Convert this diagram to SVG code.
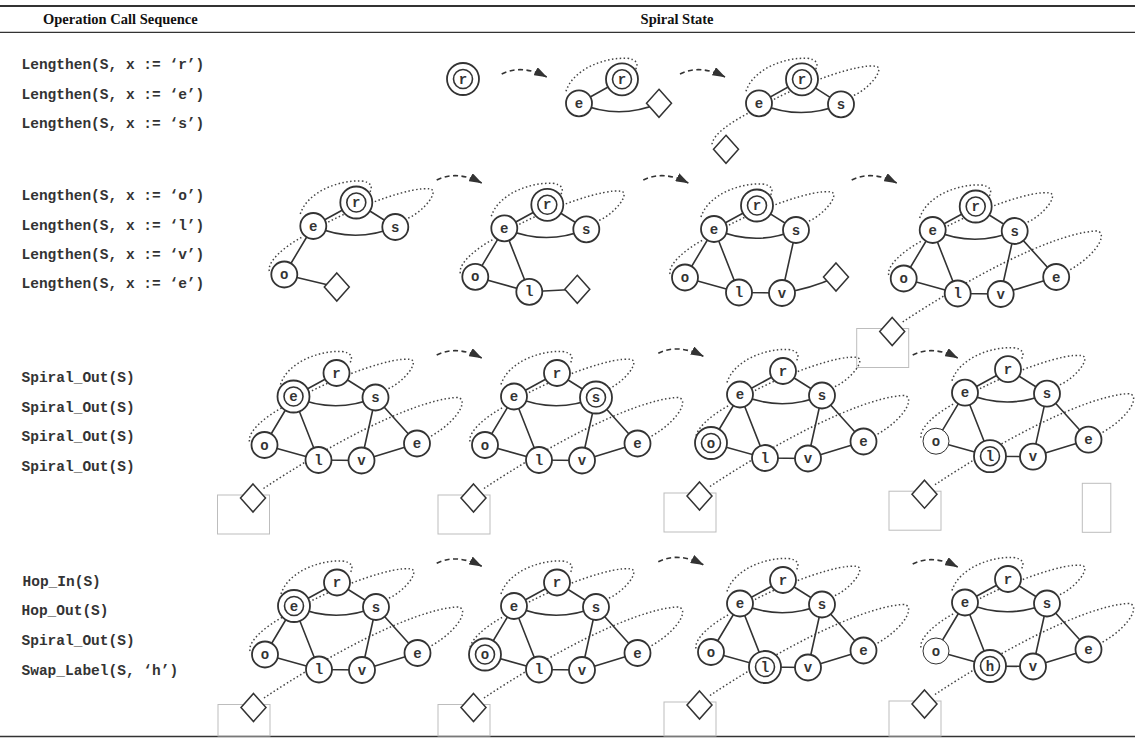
<svg xmlns="http://www.w3.org/2000/svg" xmlns:xlink="http://www.w3.org/1999/xlink" width="1135" height="738" viewBox="0 0 1135 738">
<style>
  .rule{stroke:#333;fill:none}
  .hdr{font-family:"Liberation Serif","Times New Roman",serif;font-weight:bold;font-size:14.5px;fill:#111}
  .op{font-family:"Liberation Mono","Courier New",monospace;font-weight:bold;font-size:14.5px;fill:#333}
  .edge{stroke:#333;stroke-width:1.6;fill:none}
  .spiral{stroke:#444;stroke-width:1.5;stroke-dasharray:1.5 2.4;fill:none}
  .step{stroke:#333;stroke-width:1.6;stroke-dasharray:5 3.5;fill:none}
  .frame{fill:none;stroke:#bdbdbd;stroke-width:1}
  .node circle{fill:#fff;stroke:#333;stroke-width:1.8}
  .node circle.in{stroke-width:1.6}
  .node.thin circle{stroke-width:1}
  .node text{font-family:"Liberation Mono","Courier New",monospace;font-weight:bold;font-size:14px;fill:#333;text-anchor:middle}
  .slot{fill:#fff;stroke:#333;stroke-width:1.5}
</style>
<defs>
  <marker id="step-head" viewBox="0 0 13 9" refX="12.5" refY="4.5" markerWidth="13" markerHeight="9" markerUnits="userSpaceOnUse" orient="auto">
    <path d="M0,0 L13,4.5 L0,9 z" fill="#333"/>
  </marker>
  <!-- spiral (dotted) links, local to the e node of each state -->
  <path id="sp-er" class="spiral" d="M-13,-12 C-6,-34 25,-46 48,-45 C58,-44 60,-39 56,-33"/>
  <path id="sp-es" class="spiral" d="M15,-4 C50,-22 100,-40 117,-37 C126,-35.5 112,-15 93,-7"/>
  <path id="sp-oe" class="spiral" d="M-44,45 C-46,35 -28,20 -11,11"/>
  <path id="sp-tail" class="spiral" d="M-30,92 C30,52 115,5 162,1 C176,0 168,22 137,40"/>
  <g id="spiral-full"><use xlink:href="#sp-er"/><use xlink:href="#sp-es"/><use xlink:href="#sp-oe"/><use xlink:href="#sp-tail"/></g>
  <path id="links-full" class="edge" d="M0,0 L43,-23.5 M43,-23.5 L82,1 M0,0 Q41,18 82,1 M0,0 L-29,48.5 M0,0 L25,63.5 M-29,48.5 L25,63.5 M25,63.5 L68,64 M82,1 L68,64 M82,1 L123.5,47 M68,64 L123.5,47"/>
</defs>

<!-- table rules and headings -->
<g id="table">
  <line class="rule" x1="0" y1="6" x2="1135" y2="6" stroke-width="2"/>
  <line class="rule" x1="0" y1="32.3" x2="1135" y2="32.3" stroke-width="1.2"/>
  <line class="rule" x1="0" y1="736.5" x2="1135" y2="736.5" stroke-width="1.5"/>
  <text class="hdr" x="43" y="24">Operation Call Sequence</text>
  <text class="hdr" x="640.6" y="24">Spiral State</text>
</g>

<!-- operation calls -->
<g id="operations">
  <text class="op" x="21.5" y="69">Lengthen(S, x := ‘r’)</text>
  <text class="op" x="21.5" y="98.5">Lengthen(S, x := ‘e’)</text>
  <text class="op" x="21.5" y="128">Lengthen(S, x := ‘s’)</text>
  <text class="op" x="21.5" y="200">Lengthen(S, x := ‘o’)</text>
  <text class="op" x="21.5" y="229.5">Lengthen(S, x := ‘l’)</text>
  <text class="op" x="21.5" y="258.5">Lengthen(S, x := ‘v’)</text>
  <text class="op" x="21.5" y="288">Lengthen(S, x := ‘e’)</text>
  <text class="op" x="21.5" y="382">Spiral_Out(S)</text>
  <text class="op" x="21.5" y="411.5">Spiral_Out(S)</text>
  <text class="op" x="21.5" y="441">Spiral_Out(S)</text>
  <text class="op" x="21.5" y="470.5">Spiral_Out(S)</text>
  <text class="op" x="22.5" y="586">Hop_In(S)</text>
  <text class="op" x="21.5" y="614.5">Hop_Out(S)</text>
  <text class="op" x="21.5" y="644.5">Spiral_Out(S)</text>
  <text class="op" x="21.5" y="674.5">Swap_Label(S, ‘h’)</text>
</g>

<!-- slot frames -->
<g id="frames">
  <rect class="frame" x="856.7" y="328.5" width="52" height="39"/>
  <rect class="frame" x="217.5" y="495" width="52" height="39"/>
  <rect class="frame" x="438" y="495" width="52" height="39"/>
  <rect class="frame" x="664" y="493" width="52" height="39"/>
  <rect class="frame" x="889" y="491.2" width="52" height="39"/>
  <rect class="frame" x="1082.3" y="483.3" width="28.5" height="49"/>
  <rect class="frame" x="218" y="704.5" width="52" height="31.5"/>
  <rect class="frame" x="438" y="704.5" width="52" height="31.5"/>
  <rect class="frame" x="664" y="702" width="52" height="34"/>
  <rect class="frame" x="889" y="701" width="52" height="35"/>
</g>

<g id="connectors">
  <!-- state-to-state steps -->
  <g id="steps">
    <path class="step" marker-end="url(#step-head)" d="M501.7,74 q20,-10 45,3"/>
    <path class="step" marker-end="url(#step-head)" d="M680,74 q20,-10 45,3"/>
    <path class="step" marker-end="url(#step-head)" d="M436.7,180 q20,-10 45,3"/>
    <path class="step" marker-end="url(#step-head)" d="M643.3,180 q20,-10 45,3"/>
    <path class="step" marker-end="url(#step-head)" d="M851.7,180 q20,-10 45,3"/>
    <path class="step" marker-end="url(#step-head)" d="M436.7,355 q20,-10 45,3"/>
    <path class="step" marker-end="url(#step-head)" d="M658.3,353.3 q20,-10 45,3"/>
    <path class="step" marker-end="url(#step-head)" d="M912.7,355 q20,-10 45,3"/>
    <path class="step" marker-end="url(#step-head)" d="M436.7,563.3 q20,-10 45,3"/>
    <path class="step" marker-end="url(#step-head)" d="M658.3,561.7 q20,-10 45,3"/>
    <path class="step" marker-end="url(#step-head)" d="M912.7,564 q20,-10 45,3"/>
  </g>
  <!-- row 1 -->
  <g transform="translate(579,103.3)">
    <use xlink:href="#sp-er"/>
    <path class="edge" d="M0,0 L43,-24 M0,0 Q40,17 80,0"/>
  </g>
  <g transform="translate(759,103.3)">
    <use xlink:href="#sp-er"/><use xlink:href="#sp-es"/>
    <path class="spiral" d="M-47,41 C-46,31 -28,19 -11,10"/>
    <path class="edge" d="M0,0 L43,-24 M43,-24 L82,1 M0,0 Q41,18 82,1"/>
  </g>
  <!-- row 2 -->
  <g transform="translate(313.3,226)">
    <use xlink:href="#sp-er"/><use xlink:href="#sp-es"/><use xlink:href="#sp-oe"/>
    <path class="edge" d="M0,0 L43,-23.5 M43,-23.5 L82,1 M0,0 Q41,18 82,1 M0,0 L-29,48.5 M-29,48.5 L23.5,61"/>
  </g>
  <g transform="translate(504.3,228.3)">
    <use xlink:href="#sp-er"/><use xlink:href="#sp-es"/><use xlink:href="#sp-oe"/>
    <path class="edge" d="M0,0 L43,-23.5 M43,-23.5 L82,1 M0,0 Q41,18 82,1 M0,0 L-29,48.5 M0,0 L25,63.5 M-29,48.5 L25,63.5 M25,63.5 L73,61"/>
  </g>
  <g transform="translate(714,229)">
    <use xlink:href="#sp-er"/><use xlink:href="#sp-es"/><use xlink:href="#sp-oe"/>
    <path class="edge" d="M0,0 L43,-23.5 M43,-23.5 L82,1 M0,0 Q41,18 82,1 M0,0 L-29,48.5 M0,0 L25,63.5 M-29,48.5 L25,63.5 M25,63.5 L68,64 M82,1 L68,64 M68,64 Q96,60 122,48"/>
  </g>
  <g transform="translate(932.7,230)"><use xlink:href="#spiral-full"/><use xlink:href="#links-full"/></g>
  <!-- row 3 -->
  <g transform="translate(293.5,396.5)"><use xlink:href="#spiral-full"/><use xlink:href="#links-full"/></g>
  <g transform="translate(514,396.5)"><use xlink:href="#spiral-full"/><use xlink:href="#links-full"/></g>
  <g transform="translate(740,394.5)"><use xlink:href="#spiral-full"/><use xlink:href="#links-full"/></g>
  <g transform="translate(965,392.7)"><use xlink:href="#spiral-full"/><use xlink:href="#links-full"/></g>
  <!-- row 4 -->
  <g transform="translate(294,606)"><use xlink:href="#spiral-full"/><use xlink:href="#links-full"/></g>
  <g transform="translate(514,606)"><use xlink:href="#spiral-full"/><use xlink:href="#links-full"/></g>
  <g transform="translate(740,603.5)"><use xlink:href="#spiral-full"/><use xlink:href="#links-full"/></g>
  <g transform="translate(965,602.5)"><use xlink:href="#spiral-full"/><use xlink:href="#links-full"/></g>
</g>

<g id="nodes">
  <!-- row 1 -->
  <g id="st1a" transform="translate(420,103)">
    <g id="st1a-r" class="node"><circle cx="43" cy="-24" r="16"/><circle class="in" cx="43" cy="-24" r="9.5"/><text x="43" y="-19.5">r</text></g>
  </g>
  <g id="st1b" transform="translate(579,103.3)">
    <g id="st1b-r" class="node"><circle cx="43" cy="-24" r="16"/><circle class="in" cx="43" cy="-24" r="9.5"/><text x="43" y="-19.5">r</text></g>
    <g id="st1b-e" class="node"><circle cx="0" cy="0" r="13"/><text x="0" y="4.5">e</text></g>
    <path id="st1b-slot" class="slot" d="M80,-14 l12.5,14 l-12.5,14 l-12.5,-14 z"/>
  </g>
  <g id="st1c" transform="translate(759,103.3)">
    <g id="st1c-r" class="node"><circle cx="43" cy="-24" r="16"/><circle class="in" cx="43" cy="-24" r="9.5"/><text x="43" y="-19.5">r</text></g>
    <g id="st1c-e" class="node"><circle cx="0" cy="0" r="13"/><text x="0" y="4.5">e</text></g>
    <g id="st1c-s" class="node"><circle cx="82" cy="1" r="13"/><text x="82" y="5.5">s</text></g>
    <path id="st1c-slot" class="slot" d="M-33,32 l12.5,14 l-12.5,14 l-12.5,-14 z"/>
  </g>
  <!-- row 2 -->
  <g id="st2a" transform="translate(313.3,226)">
    <g id="st2a-r" class="node"><circle cx="43" cy="-23.5" r="16"/><circle class="in" cx="43" cy="-23.5" r="9.5"/><text x="43" y="-19">r</text></g>
    <g id="st2a-e" class="node"><circle cx="0" cy="0" r="13"/><text x="0" y="4.5">e</text></g>
    <g id="st2a-s" class="node"><circle cx="82" cy="1" r="13"/><text x="82" y="5.5">s</text></g>
    <g id="st2a-o" class="node"><circle cx="-29" cy="48.5" r="13"/><text x="-29" y="53">o</text></g>
    <path id="st2a-slot" class="slot" d="M23.5,47 l12.5,14 l-12.5,14 l-12.5,-14 z"/>
  </g>
  <g id="st2b" transform="translate(504.3,228.3)">
    <g id="st2b-r" class="node"><circle cx="43" cy="-23.5" r="16"/><circle class="in" cx="43" cy="-23.5" r="9.5"/><text x="43" y="-19">r</text></g>
    <g id="st2b-e" class="node"><circle cx="0" cy="0" r="13"/><text x="0" y="4.5">e</text></g>
    <g id="st2b-s" class="node"><circle cx="82" cy="1" r="13"/><text x="82" y="5.5">s</text></g>
    <g id="st2b-o" class="node"><circle cx="-29" cy="48.5" r="13"/><text x="-29" y="53">o</text></g>
    <g id="st2b-l" class="node"><circle cx="25" cy="63.5" r="13"/><text x="25" y="68">l</text></g>
    <path id="st2b-slot" class="slot" d="M73,47 l12.5,14 l-12.5,14 l-12.5,-14 z"/>
  </g>
  <g id="st2c" transform="translate(714,229)">
    <g id="st2c-r" class="node"><circle cx="43" cy="-23.5" r="16"/><circle class="in" cx="43" cy="-23.5" r="9.5"/><text x="43" y="-19">r</text></g>
    <g id="st2c-e" class="node"><circle cx="0" cy="0" r="13"/><text x="0" y="4.5">e</text></g>
    <g id="st2c-s" class="node"><circle cx="82" cy="1" r="13"/><text x="82" y="5.5">s</text></g>
    <g id="st2c-o" class="node"><circle cx="-29" cy="48.5" r="13"/><text x="-29" y="53">o</text></g>
    <g id="st2c-l" class="node"><circle cx="25" cy="63.5" r="13"/><text x="25" y="68">l</text></g>
    <g id="st2c-v" class="node"><circle cx="68" cy="64" r="13"/><text x="68" y="68.5">v</text></g>
    <path id="st2c-slot" class="slot" d="M122,34 l12.5,14 l-12.5,14 l-12.5,-14 z"/>
  </g>
  <g id="st2d" transform="translate(932.7,230)">
    <g id="st2d-r" class="node"><circle cx="43" cy="-23.5" r="16"/><circle class="in" cx="43" cy="-23.5" r="9.5"/><text x="43" y="-19">r</text></g>
    <g id="st2d-e" class="node"><circle cx="0" cy="0" r="13"/><text x="0" y="4.5">e</text></g>
    <g id="st2d-s" class="node"><circle cx="82" cy="1" r="13"/><text x="82" y="5.5">s</text></g>
    <g id="st2d-o" class="node"><circle cx="-29" cy="48.5" r="13"/><text x="-29" y="53">o</text></g>
    <g id="st2d-l" class="node"><circle cx="25" cy="63.5" r="13"/><text x="25" y="68">l</text></g>
    <g id="st2d-v" class="node"><circle cx="68" cy="64" r="13"/><text x="68" y="68.5">v</text></g>
    <g id="st2d-e2" class="node"><circle cx="123.5" cy="47" r="13"/><text x="123.5" y="51.5">e</text></g>
    <path id="st2d-slot" class="slot" d="M-40.5,87.5 l12.5,14 l-12.5,14 l-12.5,-14 z"/>
  </g>
  <!-- row 3 -->
  <g id="st3a" transform="translate(293.5,396.5)">
    <g id="st3a-r" class="node"><circle cx="43" cy="-23.5" r="13"/><text x="43" y="-19">r</text></g>
    <g id="st3a-e" class="node"><circle cx="0" cy="0" r="16"/><circle class="in" cx="0" cy="0" r="9.5"/><text x="0" y="4.5">e</text></g>
    <g id="st3a-s" class="node"><circle cx="82" cy="1" r="13"/><text x="82" y="5.5">s</text></g>
    <g id="st3a-o" class="node"><circle cx="-29" cy="48.5" r="13"/><text x="-29" y="53">o</text></g>
    <g id="st3a-l" class="node"><circle cx="25" cy="63.5" r="13"/><text x="25" y="68">l</text></g>
    <g id="st3a-v" class="node"><circle cx="68" cy="64" r="13"/><text x="68" y="68.5">v</text></g>
    <g id="st3a-e2" class="node"><circle cx="123.5" cy="47" r="13"/><text x="123.5" y="51.5">e</text></g>
    <path id="st3a-slot" class="slot" d="M-40.5,87.5 l12.5,14 l-12.5,14 l-12.5,-14 z"/>
  </g>
  <g id="st3b" transform="translate(514,396.5)">
    <g id="st3b-r" class="node"><circle cx="43" cy="-23.5" r="13"/><text x="43" y="-19">r</text></g>
    <g id="st3b-e" class="node"><circle cx="0" cy="0" r="13"/><text x="0" y="4.5">e</text></g>
    <g id="st3b-s" class="node"><circle cx="82" cy="1" r="16"/><circle class="in" cx="82" cy="1" r="9.5"/><text x="82" y="5.5">s</text></g>
    <g id="st3b-o" class="node"><circle cx="-29" cy="48.5" r="13"/><text x="-29" y="53">o</text></g>
    <g id="st3b-l" class="node"><circle cx="25" cy="63.5" r="13"/><text x="25" y="68">l</text></g>
    <g id="st3b-v" class="node"><circle cx="68" cy="64" r="13"/><text x="68" y="68.5">v</text></g>
    <g id="st3b-e2" class="node"><circle cx="123.5" cy="47" r="13"/><text x="123.5" y="51.5">e</text></g>
    <path id="st3b-slot" class="slot" d="M-40.5,87.5 l12.5,14 l-12.5,14 l-12.5,-14 z"/>
  </g>
  <g id="st3c" transform="translate(740,394.5)">
    <g id="st3c-r" class="node"><circle cx="43" cy="-23.5" r="13"/><text x="43" y="-19">r</text></g>
    <g id="st3c-e" class="node"><circle cx="0" cy="0" r="13"/><text x="0" y="4.5">e</text></g>
    <g id="st3c-s" class="node"><circle cx="82" cy="1" r="13"/><text x="82" y="5.5">s</text></g>
    <g id="st3c-o" class="node"><circle cx="-29" cy="48.5" r="16"/><circle class="in" cx="-29" cy="48.5" r="9.5"/><text x="-29" y="53">o</text></g>
    <g id="st3c-l" class="node"><circle cx="25" cy="63.5" r="13"/><text x="25" y="68">l</text></g>
    <g id="st3c-v" class="node"><circle cx="68" cy="64" r="13"/><text x="68" y="68.5">v</text></g>
    <g id="st3c-e2" class="node"><circle cx="123.5" cy="47" r="13"/><text x="123.5" y="51.5">e</text></g>
    <path id="st3c-slot" class="slot" d="M-40.5,87.5 l12.5,14 l-12.5,14 l-12.5,-14 z"/>
  </g>
  <g id="st3d" transform="translate(965,392.7)">
    <g id="st3d-r" class="node"><circle cx="43" cy="-23.5" r="13"/><text x="43" y="-19">r</text></g>
    <g id="st3d-e" class="node"><circle cx="0" cy="0" r="13"/><text x="0" y="4.5">e</text></g>
    <g id="st3d-s" class="node"><circle cx="82" cy="1" r="13"/><text x="82" y="5.5">s</text></g>
    <g id="st3d-o" class="node thin"><circle cx="-29" cy="48.5" r="13"/><text x="-29" y="53">o</text></g>
    <g id="st3d-l" class="node"><circle cx="25" cy="63.5" r="16"/><circle class="in" cx="25" cy="63.5" r="9.5"/><text x="25" y="68">l</text></g>
    <g id="st3d-v" class="node"><circle cx="68" cy="64" r="13"/><text x="68" y="68.5">v</text></g>
    <g id="st3d-e2" class="node"><circle cx="123.5" cy="47" r="13"/><text x="123.5" y="51.5">e</text></g>
    <path id="st3d-slot" class="slot" d="M-40.5,87.5 l12.5,14 l-12.5,14 l-12.5,-14 z"/>
  </g>
  <!-- row 4 -->
  <g id="st4a" transform="translate(294,606)">
    <g id="st4a-r" class="node"><circle cx="43" cy="-23.5" r="13"/><text x="43" y="-19">r</text></g>
    <g id="st4a-e" class="node"><circle cx="0" cy="0" r="16"/><circle class="in" cx="0" cy="0" r="9.5"/><text x="0" y="4.5">e</text></g>
    <g id="st4a-s" class="node"><circle cx="82" cy="1" r="13"/><text x="82" y="5.5">s</text></g>
    <g id="st4a-o" class="node"><circle cx="-29" cy="48.5" r="13"/><text x="-29" y="53">o</text></g>
    <g id="st4a-l" class="node"><circle cx="25" cy="63.5" r="13"/><text x="25" y="68">l</text></g>
    <g id="st4a-v" class="node"><circle cx="68" cy="64" r="13"/><text x="68" y="68.5">v</text></g>
    <g id="st4a-e2" class="node"><circle cx="123.5" cy="47" r="13"/><text x="123.5" y="51.5">e</text></g>
    <path id="st4a-slot" class="slot" d="M-40.5,87.5 l12.5,14 l-12.5,14 l-12.5,-14 z"/>
  </g>
  <g id="st4b" transform="translate(514,606)">
    <g id="st4b-r" class="node"><circle cx="43" cy="-23.5" r="13"/><text x="43" y="-19">r</text></g>
    <g id="st4b-e" class="node"><circle cx="0" cy="0" r="13"/><text x="0" y="4.5">e</text></g>
    <g id="st4b-s" class="node"><circle cx="82" cy="1" r="13"/><text x="82" y="5.5">s</text></g>
    <g id="st4b-o" class="node"><circle cx="-29" cy="48.5" r="16"/><circle class="in" cx="-29" cy="48.5" r="9.5"/><text x="-29" y="53">o</text></g>
    <g id="st4b-l" class="node"><circle cx="25" cy="63.5" r="13"/><text x="25" y="68">l</text></g>
    <g id="st4b-v" class="node"><circle cx="68" cy="64" r="13"/><text x="68" y="68.5">v</text></g>
    <g id="st4b-e2" class="node"><circle cx="123.5" cy="47" r="13"/><text x="123.5" y="51.5">e</text></g>
    <path id="st4b-slot" class="slot" d="M-40.5,87.5 l12.5,14 l-12.5,14 l-12.5,-14 z"/>
  </g>
  <g id="st4c" transform="translate(740,603.5)">
    <g id="st4c-r" class="node"><circle cx="43" cy="-23.5" r="13"/><text x="43" y="-19">r</text></g>
    <g id="st4c-e" class="node"><circle cx="0" cy="0" r="13"/><text x="0" y="4.5">e</text></g>
    <g id="st4c-s" class="node"><circle cx="82" cy="1" r="13"/><text x="82" y="5.5">s</text></g>
    <g id="st4c-o" class="node"><circle cx="-29" cy="48.5" r="13"/><text x="-29" y="53">o</text></g>
    <g id="st4c-l" class="node"><circle cx="25" cy="63.5" r="16"/><circle class="in" cx="25" cy="63.5" r="9.5"/><text x="25" y="68">l</text></g>
    <g id="st4c-v" class="node"><circle cx="68" cy="64" r="13"/><text x="68" y="68.5">v</text></g>
    <g id="st4c-e2" class="node"><circle cx="123.5" cy="47" r="13"/><text x="123.5" y="51.5">e</text></g>
    <path id="st4c-slot" class="slot" d="M-40.5,87.5 l12.5,14 l-12.5,14 l-12.5,-14 z"/>
  </g>
  <g id="st4d" transform="translate(965,602.5)">
    <g id="st4d-r" class="node"><circle cx="43" cy="-23.5" r="13"/><text x="43" y="-19">r</text></g>
    <g id="st4d-e" class="node"><circle cx="0" cy="0" r="13"/><text x="0" y="4.5">e</text></g>
    <g id="st4d-s" class="node"><circle cx="82" cy="1" r="13"/><text x="82" y="5.5">s</text></g>
    <g id="st4d-o" class="node thin"><circle cx="-29" cy="48.5" r="13"/><text x="-29" y="53">o</text></g>
    <g id="st4d-h" class="node"><circle cx="25" cy="63.5" r="16"/><circle class="in" cx="25" cy="63.5" r="9.5"/><text x="25" y="68">h</text></g>
    <g id="st4d-v" class="node"><circle cx="68" cy="64" r="13"/><text x="68" y="68.5">v</text></g>
    <g id="st4d-e2" class="node"><circle cx="123.5" cy="47" r="13"/><text x="123.5" y="51.5">e</text></g>
    <path id="st4d-slot" class="slot" d="M-40.5,87.5 l12.5,14 l-12.5,14 l-12.5,-14 z"/>
  </g>
</g>
</svg>
